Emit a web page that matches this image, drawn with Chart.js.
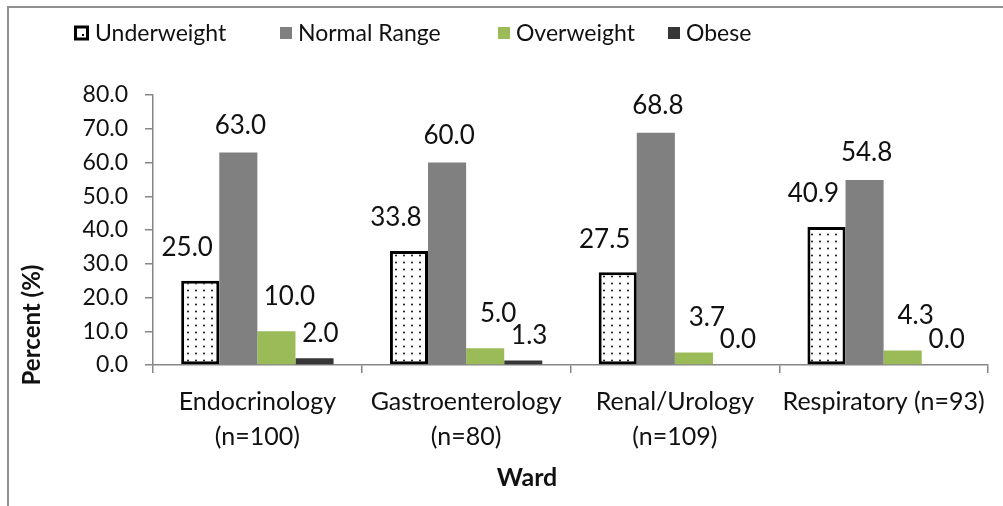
<!DOCTYPE html>
<html>
<head>
<meta charset="utf-8">
<script src="https://cdn.jsdelivr.net/npm/chart.js@4.4.0/dist/chart.umd.min.js"></script>
<style>
  html, body { margin: 0; padding: 0; background: #ffffff; }
  #wrap { position: relative; width: 1003px; height: 506px; overflow: hidden; }
  #frame { position: absolute; left: 7px; top: 6px; width: 1100px; height: 600px;
           border-left: 2px solid #8f8f8f; border-top: 2px solid #8f8f8f; }
  canvas { position: absolute; left: 0; top: 0; }
</style>
</head>
<body>
<div id="wrap">
  <div id="frame"></div>
  <canvas id="c" width="1003" height="506"></canvas>
</div>
<script>
// ---- data ----
const categories = [
  ['Endocrinology', '(n=100)'],
  ['Gastroenterology', '(n=80)'],
  ['Renal/Urology', '(n=109)'],
  ['Respiratory (n=93)']
];
const seriesNames = ['Underweight', 'Normal Range', 'Overweight', 'Obese'];
const underweight = [25.0, 33.8, 27.5, 40.9];
const normalRange = [63.0, 60.0, 68.8, 54.8];
const overweight = [10.0, 5.0, 3.7, 4.3];
const obese = [2.0, 1.3, 0.0, 0.0];
const yTickValues = [0, 10, 20, 30, 40, 50, 60, 70, 80];
const yTitle = 'Percent (%)';
const xTitle = 'Ward';

// ---- styles ----
const FONT = 'Lato, "Open Sans", sans-serif';
const AXIS_COLOR = '#868686';
const TEXT_COLOR = '#111111';

function dotPattern() {
  const p = document.createElement('canvas');
  p.width = 8; p.height = 7;
  const g = p.getContext('2d');
  g.fillStyle = '#ffffff';
  g.fillRect(0, 0, 8, 7);
  g.fillStyle = '#111111';
  g.beginPath();
  g.arc(4, 3.5, 1.0, 0, Math.PI * 2);
  g.fill();
  return document.getElementById('c').getContext('2d').createPattern(p, 'repeat');
}
const pattern = dotPattern();

const seriesStyles = [
  { bg: pattern, border: '#000000', bw: 3, dx: -13, dy: 33 },
  { bg: '#808080', border: '#808080', bw: 0, dx: 2, dy: 27 },
  { bg: '#9BBB59', border: '#9BBB59', bw: 0, dx: 13, dy: 35 },
  { bg: '#363636', border: '#363636', bw: 0, dx: 6, dy: 25 }
];
const seriesData = [underweight, normalRange, overweight, obese];

const datasets = seriesData.map((d, i) => ({
  label: seriesNames[i],
  data: d,
  backgroundColor: seriesStyles[i].bg,
  borderColor: seriesStyles[i].border,
  borderWidth: seriesStyles[i].bw,
  borderSkipped: false,
  categoryPercentage: 0.73,
  barPercentage: 1.0
}));

const valueLabels = {
  id: 'valueLabels',
  afterDatasetsDraw(chart) {
    const ctx = chart.ctx;
    ctx.save();
    ctx.font = '26px ' + FONT;
    ctx.fillStyle = TEXT_COLOR;
    ctx.textAlign = 'center';
    ctx.textBaseline = 'middle';
    chart.data.datasets.forEach((ds, i) => {
      const meta = chart.getDatasetMeta(i);
      meta.data.forEach((bar, j) => {
        const v = ds.data[j];
        ctx.fillText(v.toFixed(1), bar.x + seriesStyles[i].dx, bar.y - seriesStyles[i].dy);
      });
    });
    ctx.restore();
  }
};

const customLegend = {
  id: 'customLegend',
  afterDraw(chart) {
    const ctx = chart.ctx;
    ctx.save();
    ctx.font = '23px ' + FONT;
    ctx.textBaseline = 'middle';
    ctx.textAlign = 'left';
    const yc = 33;
    const starts = [74, 280, 498, 668];
    chart.data.datasets.forEach((ds, i) => {
      const x = starts[i];
      let box = 12;
      if (i === 0) {
        box = 15;
        ctx.fillStyle = '#ffffff';
        ctx.fillRect(x, yc - box / 2, box, box);
        ctx.strokeStyle = '#000000';
        ctx.lineWidth = 3;
        ctx.strokeRect(x + 1.5, yc - box / 2 + 1.5, box - 3, box - 3);
        ctx.fillStyle = '#000';
        ctx.fillRect(x + 8, yc + 1, 2, 2);
      } else {
        ctx.fillStyle = ds.backgroundColor;
        ctx.fillRect(x, yc - box / 2, box, box);
      }
      ctx.fillStyle = TEXT_COLOR;
      ctx.fillText(ds.label, x + box + 6, yc + 1);
    });
    ctx.restore();
  }
};

const axisTitles = {
  id: 'axisTitles',
  afterDraw(chart) {
    const ctx = chart.ctx;
    ctx.save();
    ctx.fillStyle = TEXT_COLOR;
    ctx.textAlign = 'center';
    ctx.textBaseline = 'middle';
    ctx.font = 'bold 25px ' + FONT;
    ctx.fillText(xTitle, 527, 478);
    ctx.font = 'bold 24px ' + FONT;
    ctx.translate(32, 325);
    ctx.rotate(-Math.PI / 2);
    ctx.fillText(yTitle, 0, 0);
    ctx.restore();
  }
};

new Chart(document.getElementById('c'), {
  type: 'bar',
  data: { labels: categories, datasets },
  options: {
    responsive: false,
    animation: false,
    devicePixelRatio: 1,
    layout: { padding: { left: 0, right: 15, top: 95, bottom: 0 } },
    plugins: {
      legend: { display: false },
      tooltip: { enabled: false }
    },
    scales: {
      x: {
        grid: { offset: true, drawOnChartArea: false, drawTicks: true, tickLength: 8, color: AXIS_COLOR, lineWidth: 1.5 },
        border: { display: true, color: AXIS_COLOR, width: 1.5 },
        ticks: { color: TEXT_COLOR, font: { family: FONT, size: 25, lineHeight: 1.4 }, padding: 11, maxRotation: 0, autoSkip: false },
        afterFit(s) { s.height = 141; }
      },
      y: {
        min: 0, max: 80,
        afterBuildTicks(s) { s.ticks = yTickValues.map(v => ({ value: v })); },
        grid: { drawOnChartArea: false, drawTicks: true, tickLength: 8, color: AXIS_COLOR, lineWidth: 1.5 },
        border: { display: true, color: AXIS_COLOR, width: 1.5 },
        ticks: { color: TEXT_COLOR, font: { family: FONT, size: 23 }, padding: 17, callback: v => Number(v).toFixed(1) },
        afterFit(s) { s.width = 153; }
      }
    }
  },
  plugins: [valueLabels, customLegend, axisTitles]
});
</script>
</body>
</html>
